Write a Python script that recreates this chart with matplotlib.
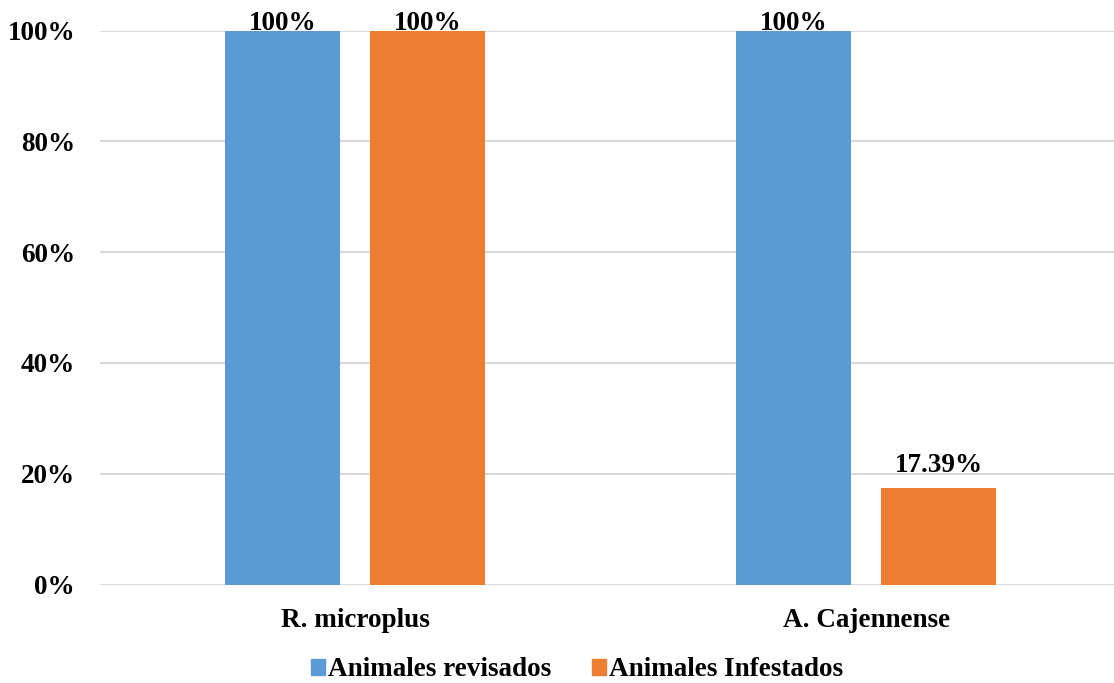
import matplotlib
matplotlib.use("Agg")
import matplotlib.pyplot as plt
import numpy as np
from matplotlib.patches import Rectangle

categories = ["R. microplus", "A. Cajennense"]
revisados = [100, 100]
infestados = [100, 17.39]
series_names = ["Animales revisados", "Animales Infestados"]
yticks = [0, 20, 40, 60, 80, 100]
labels_rev = ["100%", "100%"]
labels_inf = ["100%", "17.39%"]

plt.rcParams['font.family'] = ['Liberation Serif', 'DejaVu Serif']
plt.rcParams['font.weight'] = 'bold'

FS = 19.5
W, H = 1114, 683
fig = plt.figure(figsize=(W / 100, H / 100), dpi=100)
left_px, right_px = 100, 1114
top_px, bot_px = 30.5, 584.5
ax = fig.add_axes([left_px / W, 1 - bot_px / H, (right_px - left_px) / W, (bot_px - top_px) / H])

blue = "#5B9BD5"
orange = "#ED7D31"
x = np.arange(len(categories))
bw = 0.225
off = 0.142
b1 = ax.bar(x - off, revisados, bw, color=blue, zorder=3, label=series_names[0])
b2 = ax.bar(x + off, infestados, bw, color=orange, zorder=3, label=series_names[1])

ax.set_ylim(0, 100)
ax.set_xlim(-0.499, 1.485)
ax.set_yticks(yticks)
ax.set_yticklabels([f"{v}%" for v in yticks], fontsize=FS, fontweight='bold')
ax.set_xticks(x)
ax.set_xticklabels(categories, fontsize=FS, fontweight='bold')
ax.tick_params(axis='both', length=0)
ax.tick_params(axis='y', pad=18)
ax.tick_params(axis='x', pad=17)
for s in ax.spines.values():
    s.set_visible(False)
ax.yaxis.grid(True, color="#D9D9D9", linewidth=1.5, zorder=0)
ax.set_axisbelow(True)

def label_bars(bars, labels):
    for rect, lab in zip(bars, labels):
        h = rect.get_height()
        dy = 0.5 if h >= 100 else 11.5
        ax.annotate(lab, (rect.get_x() + rect.get_width() / 2, h),
                    xytext=(0, dy), textcoords='offset points', ha='center', va='baseline',
                    fontsize=FS, fontweight='bold', clip_on=False, zorder=5)

label_bars(b1, labels_rev)
label_bars(b2, labels_inf)

handles = [Rectangle((0, 0), 1, 1, color=blue), Rectangle((0, 0), 1, 1, color=orange)]
fig.legend(handles, series_names, loc='center', bbox_to_anchor=(577 / W, 1 - 670 / H),
           ncol=2, frameon=False, prop={'size': FS, 'weight': 'bold'},
           handlelength=0.52, handleheight=0.52, handletextpad=0.12, columnspacing=1.5,
           borderpad=0, borderaxespad=0)

fig.savefig("out.png", dpi=100)
